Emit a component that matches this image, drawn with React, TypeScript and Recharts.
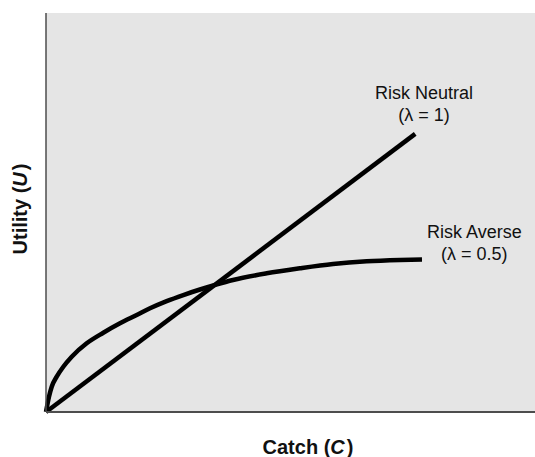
import React from "react";
import { LineChart, Line, XAxis, YAxis, CartesianGrid, ReferenceDot } from "recharts";

// Catch (C) and utility (U) in percent of the plotted range
const neutralCatch = [0, 75.5];
const neutralUtility = [0, 69.7];

const averseCatch = [0, 0.61, 1.17, 2.19, 3.54, 5.26, 8.32, 11.72, 15.13, 18.55, 21.27, 24.68, 28.08, 31.49, 34.21, 38.24, 45.13, 51.94, 58.69, 65.58, 72.39, 76.89];
const averseUtility = [0, 3.83, 6.34, 8.85, 11.35, 13.86, 17.22, 19.87, 22.23, 24.31, 25.99, 27.79, 29.32, 30.7, 31.7, 33.08, 34.76, 36.02, 37.09, 37.77, 38.1, 38.22];

const curveLabels = [
  { c: 77.3, u: 78.4, line1: "Risk Neutral", line2: "(\u03bb = 1)" },
  { c: 87.6, u: 43.5, line1: "Risk Averse", line2: "(\u03bb = 0.5)" },
];

const FONT = "'Liberation Sans', Arial, Helvetica, sans-serif";

const neutralData = neutralCatch.map((c, i) => ({ c, u: neutralUtility[i] }));
const averseData = averseCatch.map((c, i) => ({ c, u: averseUtility[i] }));

// eslint-disable-next-line @typescript-eslint/no-explicit-any
const TwoLineLabel = (line1: string, line2: string) => ({ viewBox }: any) => {
  const x = viewBox.x + viewBox.width / 2;
  const y = viewBox.y + viewBox.height / 2;
  return (
    <text x={x} y={y} textAnchor="middle" fontFamily={FONT} fontSize={18} fill="#111">
      <tspan x={x}>{line1}</tspan>
      <tspan x={x} dy={22}>{line2}</tspan>
    </text>
  );
};

// eslint-disable-next-line @typescript-eslint/no-explicit-any
const XLabel = ({ viewBox }: any) => (
  <text x={viewBox.x + 262} y={viewBox.y + 42} textAnchor="middle" fontFamily={FONT} fontSize={20} fontWeight="bold" fill="#111">
    Catch (<tspan fontStyle="italic">C</tspan><tspan dx={2}>)</tspan>
  </text>
);

// eslint-disable-next-line @typescript-eslint/no-explicit-any
const YLabel = ({ viewBox }: any) => {
  const x = 27;
  const y = viewBox.y + 196;
  return (
    <text x={x} y={y} textAnchor="middle" transform={`rotate(-90, ${x}, ${y})`} fontFamily={FONT} fontSize={20} fontWeight="bold" fill="#111">
      Utility (<tspan fontStyle="italic">U</tspan><tspan dx={2}>)</tspan>
    </text>
  );
};

export default function App() {
  return (
    <div style={{ position: "absolute", left: 0, top: 0, width: 535, height: 457, background: "#fff" }}>
      <LineChart width={535} height={457} margin={{ top: 13, right: 0, bottom: 0, left: 0 }}>
        <CartesianGrid fill="#e5e5e5" stroke="none" horizontal={false} vertical={false} />
        <XAxis
          type="number"
          dataKey="c"
          domain={[0, 100]}
          height={45}
          tick={false}
          tickLine={false}
          axisLine={{ stroke: "#4d4d4d", strokeWidth: 2 }}
          label={<XLabel />}
        />
        <YAxis
          type="number"
          dataKey="u"
          domain={[0, 100]}
          width={46}
          tick={false}
          tickLine={false}
          axisLine={{ stroke: "#4d4d4d", strokeWidth: 1.5 }}
          label={<YLabel />}
        />
        <Line
          data={neutralData}
          dataKey="u"
          type="linear"
          stroke="#000"
          strokeWidth={4.5}
          dot={false}
          isAnimationActive={false}
        />
        <Line
          data={averseData}
          dataKey="u"
          type="monotone"
          stroke="#000"
          strokeWidth={4.5}
          dot={false}
          isAnimationActive={false}
        />
        {curveLabels.map((l) => (
          <ReferenceDot
            key={l.line1}
            x={l.c}
            y={l.u}
            r={0}
            fill="none"
            stroke="none"
            label={TwoLineLabel(l.line1, l.line2)}
          />
        ))}
      </LineChart>
    </div>
  );
}
